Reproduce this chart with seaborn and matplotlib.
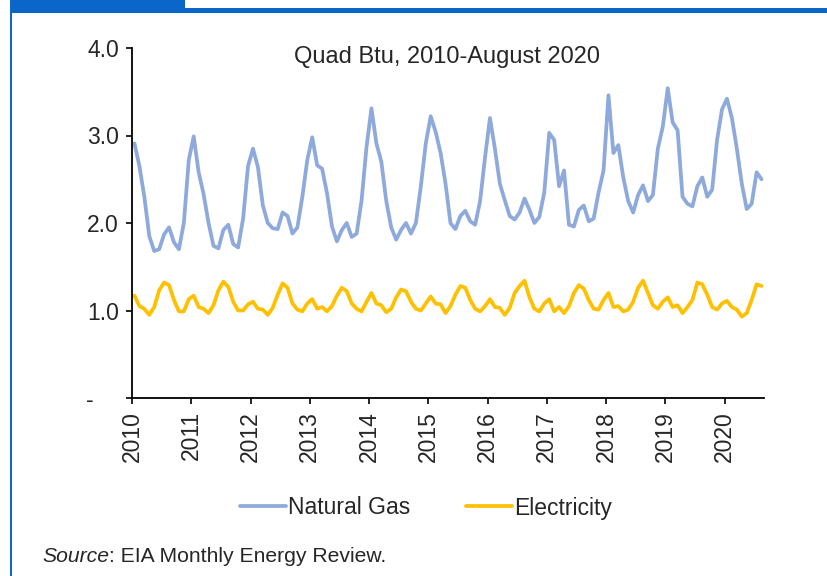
import numpy as np
import pandas as pd
import seaborn as sns
import matplotlib
matplotlib.use("Agg")
import matplotlib.pyplot as plt
from matplotlib.patches import Rectangle

# ==========================================
# DATA (Quad Btu, monthly Jan 2010 - Aug 2020)
# ==========================================

months = pd.date_range("2010-01-01", "2020-08-01", freq="MS")

natural_gas = [
    2.91, 2.65, 2.30, 1.85, 1.68, 1.70, 1.87, 1.95, 1.78, 1.70, 2.00, 2.72,  # 2010
    2.99, 2.58, 2.33, 2.00, 1.74, 1.71, 1.92, 1.98, 1.76, 1.72, 2.05, 2.65,  # 2011
    2.85, 2.64, 2.20, 2.00, 1.94, 1.93, 2.12, 2.08, 1.88, 1.95, 2.30, 2.72,  # 2012
    2.98, 2.66, 2.62, 2.34, 1.96, 1.79, 1.92, 2.00, 1.84, 1.88, 2.26, 2.87,  # 2013
    3.31, 2.91, 2.70, 2.25, 1.95, 1.81, 1.92, 2.00, 1.88, 2.00, 2.42, 2.91,  # 2014
    3.22, 3.04, 2.80, 2.45, 2.00, 1.93, 2.08, 2.14, 2.02, 1.98, 2.25, 2.75,  # 2015
    3.20, 2.85, 2.45, 2.26, 2.08, 2.04, 2.12, 2.28, 2.15, 2.00, 2.07, 2.35,  # 2016
    3.03, 2.95, 2.42, 2.60, 1.98, 1.96, 2.15, 2.20, 2.02, 2.05, 2.35, 2.60,  # 2017
    3.46, 2.80, 2.89, 2.52, 2.25, 2.12, 2.32, 2.43, 2.25, 2.32, 2.85, 3.10,  # 2018
    3.54, 3.15, 3.06, 2.30, 2.22, 2.19, 2.42, 2.52, 2.30, 2.38, 2.95, 3.30,  # 2019
    3.42, 3.20, 2.85, 2.45, 2.16, 2.22, 2.58, 2.50,                          # 2020
]

electricity = [
    1.17, 1.05, 1.02, 0.95, 1.04, 1.23, 1.32, 1.29, 1.12, 0.99, 0.99, 1.13,  # 2010
    1.17, 1.04, 1.02, 0.97, 1.06, 1.23, 1.33, 1.27, 1.10, 1.00, 1.00, 1.07,  # 2011
    1.10, 1.02, 1.01, 0.95, 1.03, 1.18, 1.31, 1.26, 1.08, 1.01, 0.99, 1.08,  # 2012
    1.13, 1.02, 1.04, 0.99, 1.05, 1.17, 1.26, 1.22, 1.08, 1.02, 0.99, 1.10,  # 2013
    1.20, 1.08, 1.06, 0.98, 1.02, 1.15, 1.24, 1.22, 1.10, 1.02, 1.00, 1.08,  # 2014
    1.16, 1.08, 1.07, 0.97, 1.05, 1.18, 1.28, 1.26, 1.12, 1.02, 0.99, 1.05,  # 2015
    1.13, 1.04, 1.03, 0.95, 1.03, 1.20, 1.28, 1.34, 1.15, 1.02, 0.99, 1.08,  # 2016
    1.13, 0.99, 1.04, 0.97, 1.05, 1.20, 1.29, 1.25, 1.12, 1.02, 1.01, 1.12,  # 2017
    1.20, 1.04, 1.05, 0.99, 1.01, 1.10, 1.26, 1.34, 1.20, 1.06, 1.02, 1.10,  # 2018
    1.15, 1.04, 1.06, 0.97, 1.04, 1.12, 1.32, 1.30, 1.18, 1.04, 1.01, 1.08,  # 2019
    1.11, 1.04, 1.01, 0.93, 0.97, 1.12, 1.30, 1.28,                          # 2020
]

series_names = ["Natural Gas", "Electricity"]
series_colors = ["#8EA9DB", "#FFC000"]
year_ticks = list(range(2010, 2021))
y_ticks = [0, 1, 2, 3, 4]
y_labels = ["-    ", "1.0", "2.0", "3.0", "4.0"]

TITLE = "Quad Btu, 2010-August 2020"
BLUE = "#0A66C8"

# ==========================================
# BUILD TABLE
# ==========================================

# each month sits in the middle of its slot on a fractional-year axis
x_pos = months.year + (months.month - 0.5) / 12.0
df = pd.concat([
    pd.DataFrame({"x": x_pos, "value": natural_gas, "series": series_names[0]}),
    pd.DataFrame({"x": x_pos, "value": electricity, "series": series_names[1]}),
])

# ==========================================
# PLOT
# ==========================================

sns.set_style("ticks")
plt.rcParams["font.family"] = ["Liberation Sans", "DejaVu Sans"]

W, H = 828, 576
fig = plt.figure(figsize=(W / 100, H / 100), dpi=100)
ax = fig.add_axes([132 / W, 1 - 398 / H, (764 - 132) / W, (398 - 48) / H])

sns.lineplot(data=df, x="x", y="value", hue="series",
             palette=dict(zip(series_names, series_colors)),
             linewidth=2.7, ax=ax, legend=True)

ax.set_xlim(2010, 2010 + len(months) / 12.0)
ax.set_ylim(0, 4)
ax.set_xticks(year_ticks)
ax.set_xticklabels([str(y) for y in year_ticks], rotation=90, fontsize=16.5)
ax.set_yticks(y_ticks)
ax.set_yticklabels(y_labels, fontsize=16.5)
ax.tick_params(axis="both", direction="out", length=4.5, width=1.2, color="black", pad=5)
ax.set_xlabel("")
ax.set_ylabel("")
for side in ["top", "right"]:
    ax.spines[side].set_visible(False)
for side in ["left", "bottom"]:
    ax.spines[side].set_color("black")
    ax.spines[side].set_linewidth(1.3)

fig.text(447 / W, 1 - 57 / H, TITLE, ha="center", va="center", fontsize=17)

handles, labels = ax.get_legend_handles_labels()
ax.get_legend().remove()
fig.legend(handles, labels, loc="center", bbox_to_anchor=(426 / W, 1 - 508 / H),
           ncol=2, frameon=False, fontsize=16.5, handlelength=2.0,
           handletextpad=0.1, columnspacing=2.4)

# source note, with "Source" in italics
src = fig.text(42 / W, 1 - 557 / H, "Source", fontsize=15.2, style="italic", va="center")
fig.canvas.draw()
bb = src.get_window_extent()
fig.text(bb.x1 / W, 1 - 557 / H, ": EIA Monthly Energy Review.", fontsize=15.2, va="center")

# report frame: header bar and left rule
fig.add_artist(Rectangle((10 / W, 1 - 13 / H), 175 / W, 13 / H, transform=fig.transFigure,
                         color=BLUE, lw=0))
fig.add_artist(Rectangle((10 / W, 1 - 13 / H), 818 / W, 5 / H, transform=fig.transFigure,
                         color=BLUE, lw=0))
fig.add_artist(Rectangle((9.5 / W, 0), 2.5 / W, 1 - 13 / H, transform=fig.transFigure,
                         color=BLUE, lw=0))

fig.savefig("out.png", dpi=100)
plt.close(fig)
